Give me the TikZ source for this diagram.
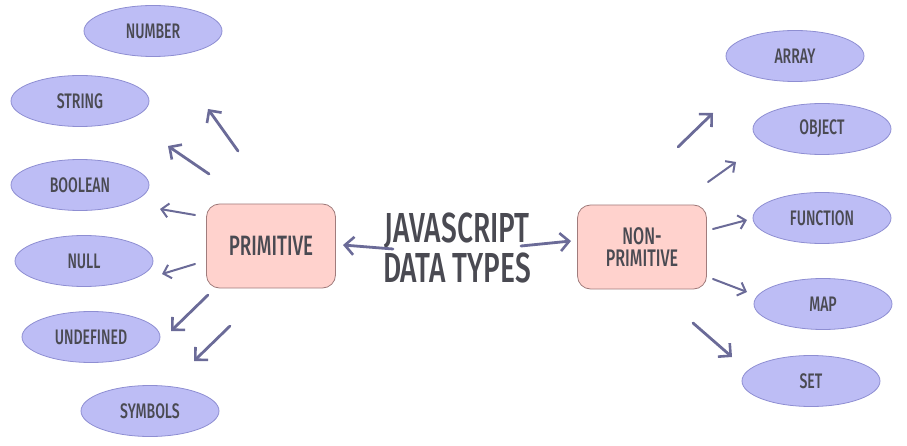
\documentclass[tikz,border=0pt]{standalone}
\usepackage{fontspec}
\newfontfamily\hand[FakeStretch=0.67]{Fira Sans Medium}
\usetikzlibrary{shapes.geometric,arrows.meta}
\definecolor{ellfill}{HTML}{BDBDF5}
\definecolor{elldraw}{HTML}{8E8ED2}
\definecolor{boxfill}{HTML}{FFD2CD}
\definecolor{boxdraw}{HTML}{A07C7C}
\definecolor{txt}{HTML}{4A4A52}
\definecolor{arr}{HTML}{6B6B98}
\tikzset{
  item/.style={ellipse, fill=ellfill, draw=elldraw, line width=0.8pt, minimum width=138pt, minimum height=51pt, inner sep=0pt, text=txt, font=\hand\fontsize{21}{22}\selectfont},
  cat/.style={rectangle, rounded corners=13pt, fill=boxfill, draw=boxdraw, line width=0.8pt, minimum width=129pt, minimum height=84pt, inner sep=0pt, text=txt, align=center},
  thick arrow/.style={draw=arr, line width=2.8pt, line cap=round, -{Straight Barb[length=9pt,width=18pt,line width=2.6pt]}},
  thin arrow/.style={draw=arr, line width=2pt, line cap=round, -{Straight Barb[length=7pt,width=14pt,line width=2pt]}}
}
\begin{document}
\begin{tikzpicture}[x=1pt,y=-1pt]
\useasboundingbox (0,0) rectangle (907,446);
% left items
\node[item] (number) at (153,31) {NUMBER};
\node[item] (string) at (80,101) {STRING};
\node[item] (boolean) at (80,185) {BOOLEAN};
\node[item] (null) at (84,261) {NULL};
\node[item] (undefined) at (91,337) {UNDEFINED};
\node[item] (symbols) at (150,411) {SYMBOLS};
% right items
\node[item] (array) at (795,56) {ARRAY};
\node[item] (object) at (822,129) {OBJECT};
\node[item] (function) at (822,218) {FUNCTION};
\node[item] (map) at (823,304) {MAP};
\node[item] (set) at (811,381) {SET};
% category boxes
\node[cat, font=\hand\fontsize{28}{30}\selectfont] (primitive) at (271,246) {PRIMITIVE};
\node[cat, font=\hand\fontsize{24}{22}\selectfont] (nonprimitive) at (642,247) {NON-\\PRIMITIVE};
% title
\node[text=txt, align=center, font=\hand\fontsize{42}{40}\selectfont] (title) at (457,248) {JAVASCRIPT\\DATA TYPES};
% arrow end points
\coordinate (a1s) at (238,151); \coordinate (a1e) at (208,109);
\coordinate (a2s) at (209,174); \coordinate (a2e) at (168,146);
\coordinate (a3s) at (195,215); \coordinate (a3e) at (160,209);
\coordinate (a4s) at (195,264); \coordinate (a4e) at (162,274);
\coordinate (a5s) at (208,295); \coordinate (a5e) at (171,331);
\coordinate (a6s) at (230,326); \coordinate (a6e) at (194,361);
\coordinate (cls) at (393,249); \coordinate (cle) at (343,245);
\coordinate (crs) at (521,246); \coordinate (cre) at (571,241);
\coordinate (b1s) at (678,147); \coordinate (b1e) at (713,113);
\coordinate (b2s) at (708,182); \coordinate (b2e) at (736,162);
\coordinate (b3s) at (713,229); \coordinate (b3e) at (747,220);
\coordinate (b4s) at (713,279); \coordinate (b4e) at (747,292);
\coordinate (b5s) at (693,323); \coordinate (b5e) at (732,357);
% arrows
\draw[thick arrow] (a1s) -- (a1e);
\draw[thick arrow] (a2s) -- (a2e);
\draw[thin arrow] (a3s) -- (a3e);
\draw[thin arrow] (a4s) -- (a4e);
\draw[thick arrow] (a5s) -- (a5e);
\draw[thick arrow] (a6s) -- (a6e);
\draw[thick arrow] (cls) -- (cle);
\draw[thick arrow] (crs) -- (cre);
\draw[thick arrow] (b1s) -- (b1e);
\draw[thin arrow] (b2s) -- (b2e);
\draw[thin arrow] (b3s) -- (b3e);
\draw[thin arrow] (b4s) -- (b4e);
\draw[thick arrow] (b5s) -- (b5e);
\end{tikzpicture}
\end{document}
